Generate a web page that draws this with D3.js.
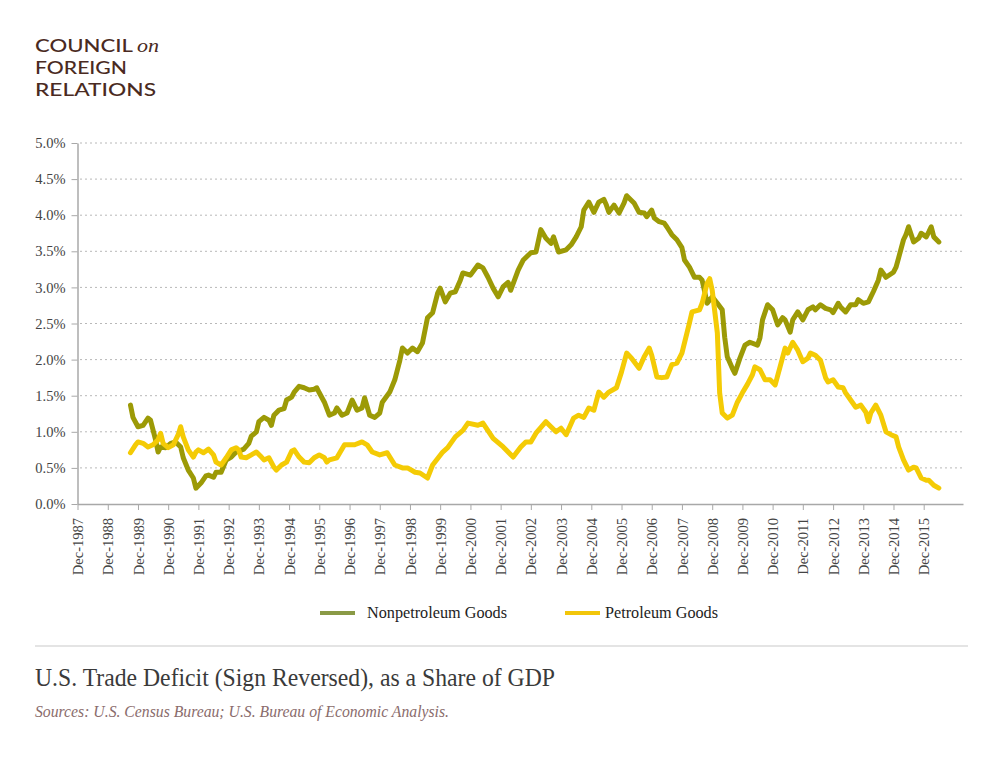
<!DOCTYPE html>
<html><head><meta charset="utf-8">
<script src="https://cdn.jsdelivr.net/npm/d3@7/dist/d3.min.js"></script>
<style>body{margin:0;background:#fff} svg{display:block}</style>
</head><body>
<svg id="chart" width="1000" height="759"></svg>
<script>
const nonpetroDates = ["1989-09","1989-10","1989-12","1990-02","1990-04","1990-05","1990-07","1990-08","1990-09","1990-11","1991-01","1991-03","1991-05","1991-06","1991-08","1991-10","1991-11","1992-01","1992-03","1992-04","1992-06","1992-07","1992-09","1992-11","1993-01","1993-03","1993-04","1993-06","1993-08","1993-09","1993-11","1993-12","1994-02","1994-04","1994-05","1994-06","1994-08","1994-10","1994-11","1995-01","1995-02","1995-04","1995-06","1995-08","1995-10","1995-11","1995-12","1996-02","1996-04","1996-06","1996-07","1996-09","1996-11","1997-01","1997-03","1997-05","1997-06","1997-08","1997-10","1997-12","1998-01","1998-04","1998-06","1998-08","1998-09","1998-11","1999-01","1999-03","1999-05","1999-07","1999-09","1999-11","1999-12","2000-02","2000-04","2000-06","2000-08","2000-09","2000-12","2001-03","2001-05","2001-07","2001-09","2001-11","2002-01","2002-03","2002-04","2002-07","2002-09","2002-12","2003-02","2003-04","2003-06","2003-08","2003-09","2003-11","2004-02","2004-04","2004-06","2004-08","2004-09","2004-11","2005-01","2005-03","2005-05","2005-06","2005-07","2005-09","2005-11","2006-01","2006-02","2006-05","2006-07","2006-09","2006-10","2006-12","2007-01","2007-03","2007-05","2007-06","2007-08","2007-10","2007-12","2008-01","2008-03","2008-05","2008-07","2008-08","2008-09","2008-10","2008-12","2009-02","2009-04","2009-05","2009-06","2009-08","2009-09","2009-11","2010-01","2010-03","2010-06","2010-07","2010-08","2010-10","2010-12","2011-02","2011-04","2011-05","2011-07","2011-08","2011-10","2011-12","2012-02","2012-04","2012-05","2012-07","2012-09","2012-11","2012-12","2013-02","2013-03","2013-05","2013-07","2013-09","2013-10","2013-12","2014-02","2014-04","2014-06","2014-07","2014-09","2014-12","2015-01","2015-02","2015-04","2015-05","2015-06","2015-08","2015-10","2015-11","2016-01","2016-02","2016-03","2016-04","2016-06"];
const nonpetroValues = [1.37,1.20,1.07,1.09,1.19,1.16,0.89,0.72,0.79,0.78,0.84,0.86,0.79,0.64,0.47,0.36,0.22,0.29,0.39,0.40,0.37,0.44,0.44,0.61,0.65,0.72,0.73,0.76,0.84,0.94,1.00,1.14,1.20,1.16,1.09,1.23,1.30,1.32,1.44,1.48,1.55,1.63,1.61,1.58,1.59,1.61,1.54,1.41,1.23,1.26,1.33,1.23,1.26,1.44,1.30,1.33,1.47,1.23,1.20,1.26,1.41,1.55,1.72,1.99,2.16,2.09,2.16,2.11,2.23,2.58,2.65,2.92,2.99,2.80,2.92,2.94,3.10,3.20,3.17,3.31,3.27,3.14,2.99,2.87,3.01,3.07,2.96,3.24,3.38,3.48,3.49,3.80,3.68,3.61,3.70,3.49,3.52,3.59,3.70,3.84,4.07,4.18,4.04,4.18,4.22,4.14,4.04,4.14,4.03,4.17,4.27,4.17,4.04,4.03,3.98,4.07,3.96,3.91,3.89,3.84,3.73,3.66,3.55,3.38,3.28,3.14,3.14,3.10,2.94,2.78,2.87,2.78,2.69,2.31,2.04,1.88,1.81,2.02,2.20,2.24,2.20,2.30,2.55,2.76,2.69,2.48,2.58,2.55,2.38,2.55,2.66,2.55,2.69,2.73,2.69,2.76,2.71,2.69,2.65,2.78,2.73,2.66,2.76,2.76,2.83,2.78,2.80,2.94,3.10,3.24,3.14,3.21,3.28,3.41,3.66,3.73,3.84,3.63,3.68,3.75,3.70,3.77,3.84,3.70,3.63];

const petroDates = ["1989-09","1989-11","1989-12","1990-02","1990-04","1990-06","1990-08","1990-09","1990-10","1990-12","1991-02","1991-04","1991-05","1991-06","1991-08","1991-10","1991-11","1991-12","1992-02","1992-04","1992-06","1992-07","1992-09","1992-11","1993-01","1993-03","1993-04","1993-05","1993-07","1993-09","1993-11","1994-01","1994-02","1994-04","1994-06","1994-07","1994-09","1994-11","1995-01","1995-02","1995-04","1995-06","1995-08","1995-10","1995-12","1996-02","1996-03","1996-04","1996-07","1996-10","1997-02","1997-05","1997-07","1997-09","1997-12","1998-03","1998-06","1998-09","1998-11","1999-02","1999-04","1999-07","1999-09","2000-01","2000-03","2000-06","2000-09","2000-11","2001-03","2001-05","2001-09","2002-01","2002-05","2002-08","2002-10","2002-12","2003-02","2003-06","2003-10","2003-12","2004-02","2004-05","2004-07","2004-09","2004-11","2005-01","2005-03","2005-05","2005-07","2005-10","2005-12","2006-02","2006-04","2006-07","2006-09","2006-11","2006-12","2007-02","2007-04","2007-06","2007-08","2007-10","2007-12","2008-03","2008-04","2008-07","2008-08","2008-10","2008-11","2008-12","2009-02","2009-03","2009-04","2009-06","2009-08","2009-10","2009-12","2010-02","2010-04","2010-05","2010-07","2010-09","2010-11","2011-01","2011-03","2011-05","2011-06","2011-08","2011-10","2011-12","2012-02","2012-03","2012-05","2012-07","2012-09","2012-10","2012-12","2013-02","2013-04","2013-05","2013-07","2013-09","2013-11","2014-01","2014-02","2014-03","2014-05","2014-07","2014-09","2014-11","2015-01","2015-02","2015-04","2015-06","2015-08","2015-09","2015-11","2016-01","2016-02","2016-04","2016-06"];
const petroValues = [0.71,0.82,0.86,0.84,0.79,0.82,0.89,0.98,0.84,0.78,0.82,0.96,1.07,0.93,0.75,0.65,0.72,0.75,0.71,0.76,0.68,0.58,0.54,0.64,0.75,0.78,0.75,0.65,0.64,0.68,0.72,0.65,0.61,0.64,0.51,0.47,0.54,0.58,0.73,0.75,0.65,0.58,0.57,0.64,0.68,0.64,0.58,0.61,0.64,0.82,0.82,0.86,0.82,0.72,0.68,0.71,0.54,0.50,0.50,0.44,0.43,0.36,0.54,0.72,0.78,0.93,1.02,1.12,1.09,1.12,0.91,0.79,0.65,0.79,0.86,0.86,0.98,1.14,1.00,1.05,0.96,1.19,1.23,1.20,1.33,1.30,1.55,1.48,1.55,1.61,1.83,2.09,2.02,1.88,2.04,2.16,2.06,1.76,1.75,1.76,1.93,1.95,2.09,2.51,2.66,2.69,2.78,3.06,3.12,2.96,2.37,1.54,1.26,1.19,1.23,1.41,1.54,1.66,1.79,1.90,1.86,1.72,1.72,1.65,1.90,2.16,2.09,2.24,2.13,1.97,2.02,2.09,2.06,1.99,1.75,1.69,1.72,1.62,1.61,1.54,1.44,1.34,1.37,1.27,1.14,1.26,1.37,1.23,1.00,0.96,0.93,0.79,0.61,0.47,0.51,0.50,0.36,0.33,0.33,0.26,0.22];

const yTicks = [0,0.5,1,1.5,2,2.5,3,3.5,4,4.5,5];
const xTickYears = d3.range(1987, 2016);
const seriesNames = ["Nonpetroleum Goods","Petroleum Goods"];
const seriesColors = ["#9c9a06","#f4cb05"];
const legendColors = ["#8a9a46","#f2c60a"];

const parse = d3.timeParse("%Y-%m");
const svg = d3.select("#chart");

const x = d3.scaleTime()
  .domain([new Date(1987,11,1), new Date(2017,2,20)])
  .range([77.5, 963]);
const y = d3.scaleLinear().domain([0,5]).range([504,143]);

// gridlines
svg.append("g").selectAll("line")
  .data(yTicks.filter(d=>d>0)).join("line")
  .attr("x1",80).attr("x2",962)
  .attr("y1",d=>y(d)).attr("y2",d=>y(d))
  .attr("stroke","#b8b8b8").attr("stroke-width",1)
  .attr("stroke-dasharray","2,3");

// y axis
const yAxis = svg.append("g").attr("transform","translate(77.5,0)")
  .call(d3.axisLeft(y).tickValues(yTicks).tickFormat(d=>d.toFixed(1)+"%").tickSize(6).tickSizeOuter(0).tickPadding(6));
yAxis.select(".domain").attr("stroke","#a8a8a8").attr("stroke-width",1.5);
yAxis.selectAll(".tick line").attr("stroke","#a8a8a8");
yAxis.selectAll("text").attr("font-family","'Liberation Serif', serif").attr("font-size",14.5).attr("fill","#444");

// x axis
const xAxis = svg.append("g").attr("transform","translate(0,504)")
  .call(d3.axisBottom(x).tickValues(xTickYears.map(yr=>new Date(yr,11,1)))
    .tickFormat(d3.timeFormat("Dec-%Y")).tickSize(6).tickSizeOuter(0));
xAxis.select(".domain").attr("stroke","#a8a8a8").attr("stroke-width",1.5);
xAxis.selectAll(".tick line").attr("stroke","#a8a8a8");
xAxis.selectAll("text")
  .attr("font-family","'Liberation Serif', serif").attr("font-size",14.5).attr("fill","#444")
  .attr("transform","rotate(-90)").attr("x",-14).attr("y",0).attr("dy","0.35em")
  .style("text-anchor","end");

// lines
const line = d3.line().x(d=>x(d.date)).y(d=>y(d.value));
const series = [
  nonpetroDates.map((d,i)=>({date:parse(d), value:nonpetroValues[i]})),
  petroDates.map((d,i)=>({date:parse(d), value:petroValues[i]}))
];
svg.append("g").selectAll("path").data(series).join("path")
  .attr("d",line).attr("fill","none")
  .attr("stroke",(d,i)=>seriesColors[i]).attr("stroke-width",5)
  .attr("stroke-linejoin","round").attr("stroke-linecap","round");

// legend
const legendX = [320, 565];
const lg = svg.append("g").selectAll("g").data(seriesNames).join("g")
  .attr("transform",(d,i)=>`translate(${legendX[i]},613)`);
lg.append("line").attr("x1",0).attr("x2",35).attr("y1",0).attr("y2",0)
  .attr("stroke",(d,i)=>legendColors[i]).attr("stroke-width",4);
lg.append("text").attr("x",(d,i)=>i===0?47:40).attr("y",5)
  .attr("font-family","'Liberation Serif', serif").attr("font-size",16).attr("fill","#222")
  .attr("textLength",(d,i)=>i===0?140:113).attr("lengthAdjust","spacingAndGlyphs")
  .text(d=>d);

// separator
svg.append("line").attr("x1",35).attr("x2",968).attr("y1",646).attr("y2",646)
  .attr("stroke","#e4e4e4").attr("stroke-width",2);

// title and source
svg.append("text").attr("x",35).attr("y",686)
  .attr("font-family","'Liberation Serif', serif").attr("font-size",26).attr("fill","#3a3a3a")
  .attr("textLength",520).attr("lengthAdjust","spacingAndGlyphs")
  .text("U.S. Trade Deficit (Sign Reversed), as a Share of GDP");
svg.append("text").attr("x",35).attr("y",717)
  .attr("font-family","'Liberation Serif', serif").attr("font-style","italic").attr("font-size",16).attr("fill","#8a6c6c")
  .attr("textLength",414).attr("lengthAdjust","spacingAndGlyphs")
  .text("Sources: U.S. Census Bureau; U.S. Bureau of Economic Analysis.");

// logo
const logo = svg.append("g").attr("fill","#4a2a22").attr("font-family","Lato, sans-serif").attr("font-weight",500);
logo.append("text").attr("x",35).attr("y",52).attr("font-size",18).attr("textLength",98).attr("lengthAdjust","spacingAndGlyphs").text("COUNCIL");
logo.append("text").attr("x",137).attr("y",52).attr("font-size",19).attr("font-family","'Liberation Serif', serif").attr("font-style","italic").attr("textLength",22).attr("lengthAdjust","spacingAndGlyphs").text("on");
logo.append("text").attr("x",35).attr("y",74).attr("font-size",18).attr("textLength",92).attr("lengthAdjust","spacingAndGlyphs").text("FOREIGN");
logo.append("text").attr("x",35).attr("y",96).attr("font-size",18).attr("textLength",121).attr("lengthAdjust","spacingAndGlyphs").text("RELATIONS");
</script>
</body></html>
